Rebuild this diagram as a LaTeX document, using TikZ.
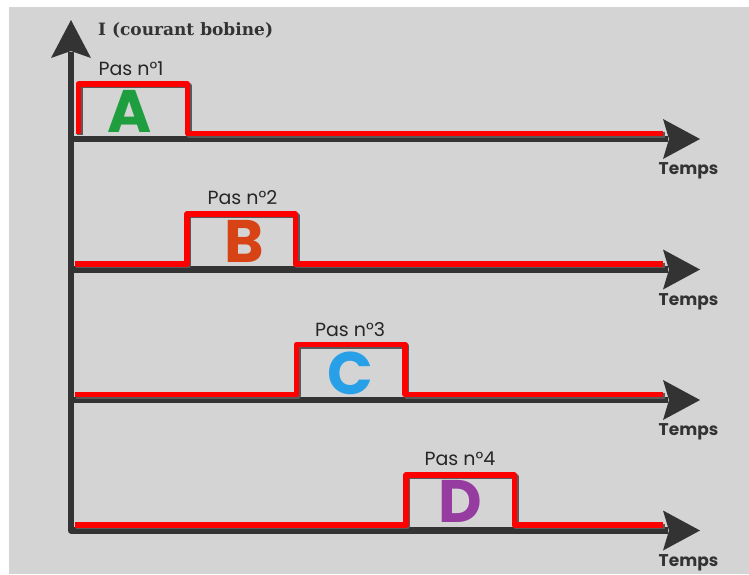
\documentclass[tikz,border=0pt]{standalone}
\usepackage{fontspec}
\setmainfont{Poppins}
\newfontfamily\titlefont{DejaVu Serif}
\newfontfamily\letterfont{Poppins}
\definecolor{bg}{RGB}{212,212,212}
\definecolor{axiscol}{RGB}{51,51,51}
\definecolor{pulsecol}{RGB}{255,0,0}
\definecolor{colA}{RGB}{30,158,62}
\definecolor{colB}{RGB}{216,67,21}
\definecolor{colC}{RGB}{40,160,232}
\definecolor{colD}{RGB}{150,60,160}
\tikzset{
  axisline/.style={draw=axiscol,line width=6.5pt,line join=round},
  headfill/.style={fill=axiscol},
  pulseline/.style={draw=pulsecol,line width=5.5pt,line join=round},
  pulseshadow/.style={draw=black!65,line width=5.5pt,line join=round},
  steplabel/.style={font=\fontsize{19}{19}\selectfont,text=black!85,inner sep=0pt},
  bigletter/.style={font=\letterfont\bfseries\fontsize{60}{60}\selectfont,inner sep=0pt,anchor=base},
  timelabel/.style={font=\bfseries\fontsize{17}{17}\selectfont,text=axiscol,inner sep=0pt},
  titlelabel/.style={font=\titlefont\bfseries\fontsize{17}{17}\selectfont,inner sep=0pt,anchor=base west}
}
\begin{document}
\begin{tikzpicture}[x=1pt,y=-1pt]
\useasboundingbox (0,0) rectangle (749,574);
\fill[white] (0,0) rectangle (749,574);
\fill[bg] (9,7) rectangle (749,574);

% vertical axis with the last time axis
\coordinate (ytip) at (71,20);
\coordinate (ybase) at (71,52);
\coordinate (corner) at (71,530.5);
\draw[axisline] (ybase) -- (corner) -- (668,530.5);
\fill[headfill] (ytip) -- (51,58) -- (71,51) -- (91,58) -- cycle;

% time axes
\foreach \y in {139,269.5,400} {
  \draw[axisline] (71,\y) -- (668,\y);
}
\foreach \y [count=\i] in {139,269.5,400,530.5} {
  \coordinate (ttip\i) at (700,\y);
  \fill[headfill] (ttip\i) -- (663,\y-20) -- (669,\y) -- (663,\y+20) -- cycle;
  \node[timelabel] (temps\i) at (688.5,\y+32) {Temps};
}

% pulses
\foreach \d in {1.5} {
  \draw[pulseshadow,shift={(\d,\d)}] (78.5,133.5) -- (78.5,84) -- (187.5,84) -- (187.5,133.5) -- (663,133.5);
  \draw[pulseshadow,shift={(\d,\d)}] (74.5,264) -- (187,264) -- (187,214) -- (295.5,214) -- (295.5,264) -- (663,264);
  \draw[pulseshadow,shift={(\d,\d)}] (74.5,394.5) -- (296.5,394.5) -- (296.5,344.5) -- (405,344.5) -- (405,394.5) -- (663,394.5);
  \draw[pulseshadow,shift={(\d,\d)}] (74.5,525) -- (406,525) -- (406,475) -- (514.5,475) -- (514.5,525) -- (663,525);
}
\draw[pulseline] (78.5,133.5) -- (78.5,84) -- (187.5,84) -- (187.5,133.5) -- (663,133.5);
\draw[pulseline] (74.5,264) -- (187,264) -- (187,214) -- (295.5,214) -- (295.5,264) -- (663,264);
\draw[pulseline] (74.5,394.5) -- (296.5,394.5) -- (296.5,344.5) -- (405,344.5) -- (405,394.5) -- (663,394.5);
\draw[pulseline] (74.5,525) -- (406,525) -- (406,475) -- (514.5,475) -- (514.5,525) -- (663,525);

% step labels
\node[steplabel] (pas1) at (131,69) {Pas n°1};
\node[steplabel] (pas2) at (242.5,198) {Pas n°2};
\node[steplabel] (pas3) at (350,330) {Pas n°3};
\node[steplabel] (pas4) at (460,459) {Pas n°4};

% letters
\node[bigletter,text=colA] (letA) at (130,132.5) {A};
\node[bigletter,text=colB] (letB) at (244,262.5) {B};
\node[bigletter,text=colC] (letC) at (350,394) {C};
\node[bigletter,text=colD] (letD) at (460,522.5) {D};

% title
\node[titlelabel,text=axiscol] (title) at (98,35) {I (courant bobine)};
\end{tikzpicture}
\end{document}
